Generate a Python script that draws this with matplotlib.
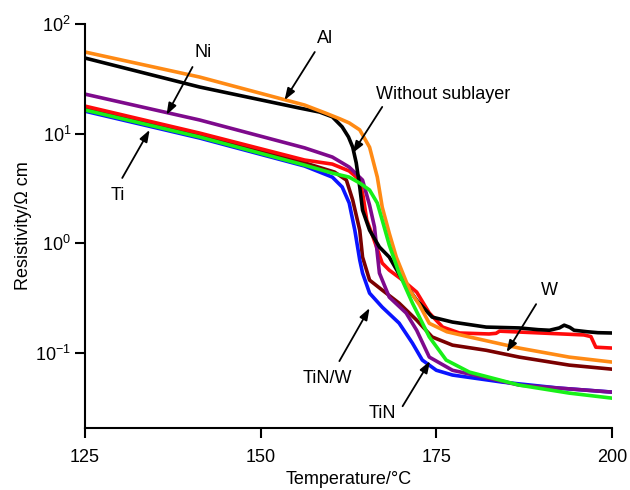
import numpy as np
import matplotlib
matplotlib.use("Agg")
import matplotlib.pyplot as plt

plt.rcParams['font.family'] = ['Liberation Sans', 'DejaVu Sans']
plt.rcParams['mathtext.fontset'] = 'custom'
plt.rcParams['mathtext.rm'] = 'Liberation Sans'

# temperature (degC) / resistivity (ohm cm)
al_t = [125, 141.3, 156.25, 159.2, 161.3, 162.6, 164.1, 165.5, 166.6, 167.3,
        168.3, 169.3, 171.2, 172.6, 174.0, 176.5, 179.7, 186.8, 193.9, 200]
al_r = [55.5, 32.8, 18.2, 15.4, 13.6, 12.5, 10.8, 7.5, 4.0, 2.13,
        1.23, 0.745, 0.372, 0.272, 0.185, 0.155, 0.139, 0.110, 0.091, 0.082]

bare_t = [125, 141.3, 155.5, 158.4, 160.2, 161.6, 162.5, 163.1, 163.6, 164.1,
          164.5, 165.5, 166.9, 168.3, 170.2, 172.2, 174.4, 177.3, 182.1, 186.8,
          189.5, 191.1, 192.5, 193.2, 194.0, 194.6, 196.5, 198.0, 200]
bare_r = [48.9, 26.6, 17.1, 15.7, 14.2, 11.5, 9.3, 7.5, 5.4, 3.25,
          2.0, 1.31, 0.92, 0.745, 0.459, 0.301, 0.211, 0.190, 0.171, 0.168,
          0.162, 0.160, 0.168, 0.178, 0.170, 0.160, 0.155, 0.152, 0.151]

ni_t = [125, 141.3, 156.25, 160.2, 162.6, 164.5, 165.5, 166.2, 166.5, 166.9,
        168.3, 170.7, 172.2, 174.0, 177.3, 186.8, 200]
ni_r = [22.9, 13.3, 7.4, 6.1, 4.94, 3.76, 2.22, 1.40, 0.92, 0.532,
        0.321, 0.230, 0.160, 0.091, 0.069, 0.0505, 0.0436]

ti_t = [125, 141.3, 156.25, 160.2, 162.6, 164.1, 164.6, 165.1, 165.9, 167.3,
        168.3, 170.2, 172.2, 174.0, 175.9, 178.3, 182.5, 183.5, 184.0, 196.0,
        197.0, 197.7, 200]
ti_r = [17.8, 10.1, 5.73, 5.26, 4.55, 3.76, 2.63, 1.62, 1.18, 0.656,
        0.566, 0.459, 0.357, 0.230, 0.171, 0.151, 0.148, 0.150, 0.157, 0.145,
        0.140, 0.112, 0.110]

tin_t = [125, 141.3, 156.25, 160.2, 162.6, 164.1, 165.5, 166.6, 167.3, 168.3,
         169.7, 171.6, 174.0, 176.4, 179.7, 186.8, 193.9, 200]
tin_r = [16.4, 9.3, 5.15, 4.35, 4.0, 3.53, 3.05, 2.32, 1.62, 0.96,
         0.532, 0.283, 0.139, 0.0855, 0.0664, 0.0505, 0.0427, 0.0384]

tinw_t = [125, 141.3, 156.25, 160.2, 161.6, 162.6, 163.4, 164.1, 164.5, 165.5,
          167.3, 169.7, 171.6, 173.0, 175.0, 177.3, 184.4, 192.5, 200]
tinw_r = [16.0, 9.1, 5.05, 4.0, 3.25, 2.32, 1.31, 0.70, 0.532, 0.349,
          0.260, 0.186, 0.122, 0.0855, 0.069, 0.0624, 0.0538, 0.0474, 0.0436]

w_t = [125, 141.3, 156.25, 160.5, 162.2, 163.1, 164.1, 164.5, 165.5, 167.3,
       169.7, 172.2, 174.4, 177.3, 182.1, 186.8, 193.9, 200]
w_r = [17.1, 9.7, 5.4, 4.45, 3.76, 2.47, 1.31, 0.745, 0.459, 0.372,
       0.283, 0.198, 0.139, 0.117, 0.105, 0.091, 0.0769, 0.0706]

series = [
    (w_t, w_r, '#7a0000'),
    (tinw_t, tinw_r, '#0a14ff'),
    (ti_t, ti_r, '#ff0a0a'),
    (ni_t, ni_r, '#7e0a8c'),
    (bare_t, bare_r, '#000000'),
    (al_t, al_r, '#ff8a14'),
    (tin_t, tin_r, '#18f018'),
]

fig = plt.figure(figsize=(6.3, 4.9), dpi=100)
ax = fig.add_axes([85 / 630, 62 / 490, 527 / 630, 404 / 490])

for t, r, c in series:
    ax.plot(t, r, color=c, lw=2.6, solid_joinstyle='round')

ax.set_yscale('log')
ax.set_xlim(125, 200)
ax.set_ylim(0.0205, 100)
ax.set_xticks([125, 150, 175, 200])
ax.set_yticks([0.1, 1, 10, 100])
ax.yaxis.set_minor_locator(matplotlib.ticker.NullLocator())

for s in ['top', 'right']:
    ax.spines[s].set_visible(False)
for s in ['left', 'bottom']:
    ax.spines[s].set_linewidth(1.5)
ax.tick_params(direction='out', length=7, width=1.5, labelsize=13)
ax.tick_params(axis='x', pad=8)
ax.tick_params(axis='y', pad=3)

ax.set_xlabel('Temperature/°C', fontsize=13, labelpad=4)
ax.set_ylabel('Resistivity/Ω cm', fontsize=13, labelpad=2)

# labels with arrows: (text, text pos, arrow tail, arrow tip)
notes = [
    ('Ni', (141.8, 54.4), (140.3, 40.5), (136.6, 14.8)),
    ('Al', (159.2, 73), (157.7, 55.5), (153.4, 20.2)),
    ('Without sublayer', (175.9, 22.5), (167.3, 17.5), (163.1, 6.64)),
    ('Ti', (129.7, 2.74), (130.3, 3.93), (134.2, 10.8)),
    ('W', (191.1, 0.372), (189.2, 0.277), (185.0, 0.101)),
    ('TiN/W', (159.5, 0.0585), (161.2, 0.0836), (165.5, 0.255)),
    ('TiN', (167.3, 0.028), (170.2, 0.0324), (174.1, 0.0836)),
]
for txt, tp, tail, tip in notes:
    ax.text(tp[0], tp[1], txt, fontsize=13, ha='center', va='center')
    ax.annotate('', xy=tip, xytext=tail,
                arrowprops=dict(arrowstyle='-|>,head_length=0.7,head_width=0.25',
                                color='black', lw=1.3, shrinkA=0, shrinkB=0))

fig.savefig('out.png', dpi=100)
